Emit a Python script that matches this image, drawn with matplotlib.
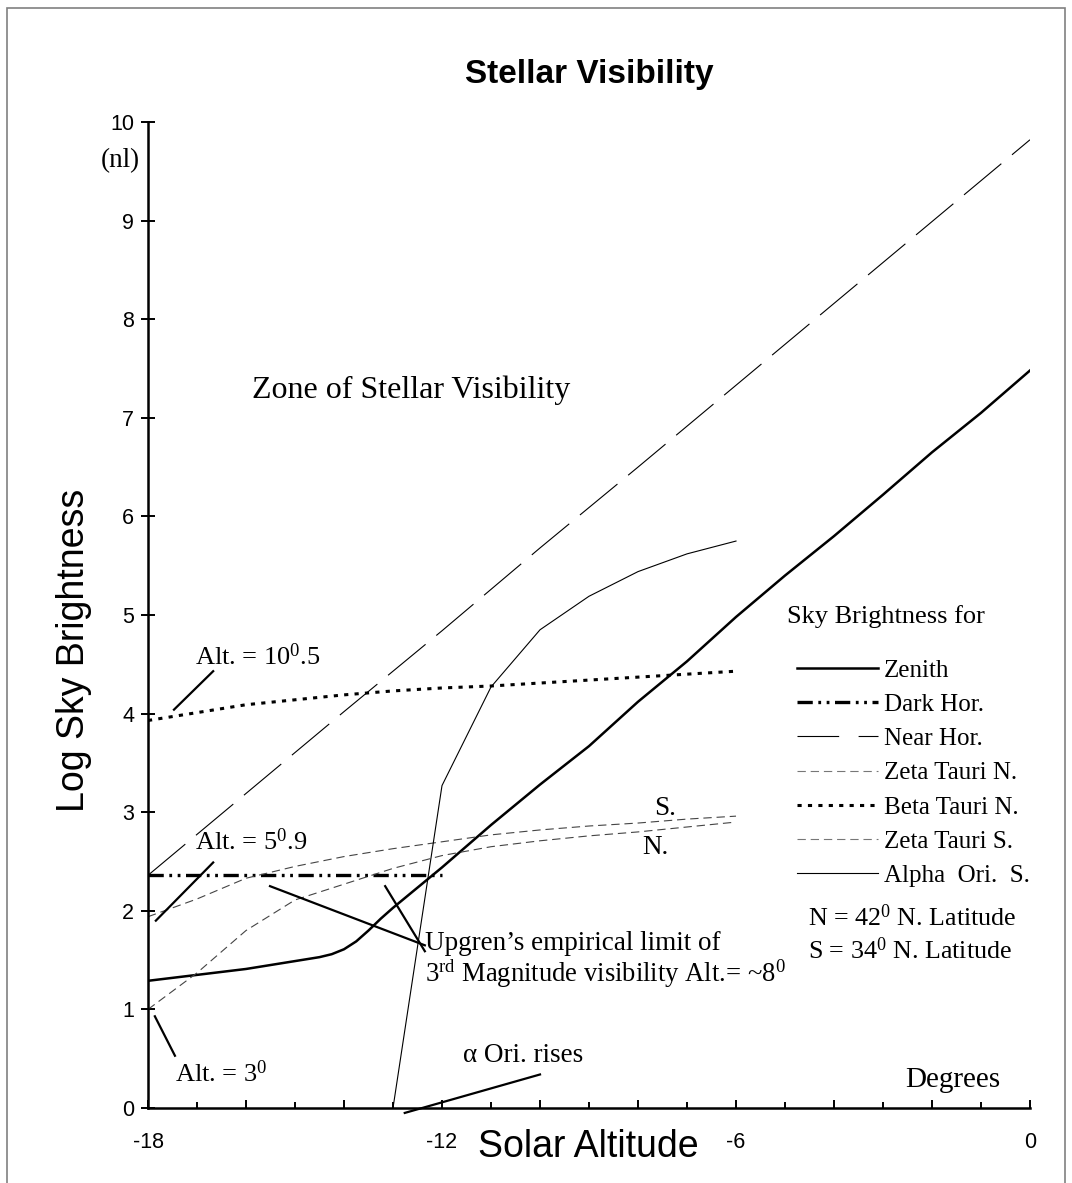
"""
Stellar visibility: log sky brightness against solar altitude during twilight.
Output: out.png
"""

import matplotlib
matplotlib.use("Agg")
import matplotlib.pyplot as plt
from matplotlib.lines import Line2D
from matplotlib.patches import Rectangle
from matplotlib.ticker import MultipleLocator, FuncFormatter

# ── data (solar altitude in degrees, log sky brightness in nl) ──
alt_zenith = [-18, -17, -16, -15, -14.5, -14.25, -14, -13.75, -13.5, -13.25, -13, -12, -11, -10, -9, -8, -7, -6, -5, -4, -3, -2, -1, 0]
zenith     = [1.29, 1.35, 1.41, 1.49, 1.53, 1.56, 1.61, 1.69, 1.80, 1.92, 2.03, 2.44, 2.87, 3.28, 3.67, 4.12, 4.53, 4.98, 5.40, 5.80, 6.22, 6.65, 7.05, 7.48]

alt_dark = [-18, -16, -14, -12]
dark_hor = [2.36, 2.36, 2.36, 2.36]

alt_near = [-18, -16, -14, -12, -10, -8, -6, -4, -2, 0]
near_hor = [2.36, 3.19, 4.02, 4.84, 5.68, 6.50, 7.33, 8.16, 8.99, 9.82]

alt_star    = [-18, -17, -16, -15, -14, -13, -12, -11, -10, -9, -8, -7, -6]
zeta_tau_n  = [1.00, 1.37, 1.80, 2.11, 2.27, 2.43, 2.56, 2.65, 2.71, 2.76, 2.80, 2.85, 2.90]
beta_tau_n  = [3.93, 4.01, 4.09, 4.14, 4.19, 4.23, 4.26, 4.28, 4.31, 4.34, 4.37, 4.40, 4.43]
zeta_tau_s  = [1.94, 2.12, 2.33, 2.45, 2.55, 2.63, 2.70, 2.77, 2.82, 2.86, 2.89, 2.93, 2.96]

alt_alpha   = [-13, -12, -11, -10, -9, -8, -7, -6]
alpha_ori_s = [0.00, 3.27, 4.27, 4.85, 5.19, 5.44, 5.62, 5.75]

# pointer segments for the annotations: (x0, x1), (y0, y1)
ptr_alt_105  = ([-17.47, -16.67], [4.04, 4.43])
ptr_alt_59   = ([-17.84, -16.67], [1.90, 2.49])
ptr_alt_3    = ([-17.86, -17.45], [0.93, 0.53])
ptr_upgren_a = ([-15.51, -12.35], [2.25, 1.65])
ptr_upgren_b = ([-13.16, -12.35], [2.25, 1.59])
ptr_alpha    = ([-12.76, -10.00], [-0.05, 0.34])

x_labels = {-18: "-18", -12: "-12", -6: "-6", 0: "0"}

plt.rcParams["lines.scale_dashes"] = False
plt.rcParams["mathtext.fontset"] = "custom"
plt.rcParams["mathtext.rm"] = "Liberation Serif"
plt.rcParams["mathtext.it"] = "Liberation Serif:italic"

SANS = "Liberation Sans"
SERIF = "Liberation Serif"
FS = 19

fig = plt.figure(figsize=(10.72, 11.83), dpi=100)
ax = fig.add_axes([148 / 1072, 75 / 1183, 882 / 1072, 986 / 1183])

# gray frame round the whole picture
fig.patches.append(Rectangle((7 / 1072, -0.01), 1058 / 1072, 1.01 - 8 / 1183,
                             transform=fig.transFigure, fill=False,
                             edgecolor="#808080", linewidth=1.2))

# ── series ──
l_zen, = ax.plot(alt_zenith, zenith, color="black", lw=1.8, label="Zenith")
l_dark, = ax.plot(alt_dark, dark_hor, color="black", lw=2.4,
                  linestyle=(0, (11, 4, 2, 4, 2, 4)), label="Dark Hor.")
l_near, = ax.plot(alt_near, near_hor, color="black", lw=0.8,
                  linestyle=(0, (35, 10)), label="Near Hor.")
l_zn, = ax.plot(alt_star, zeta_tau_n, color="#444444", lw=0.8,
                linestyle=(0, (6, 3.5)), label="Zeta Tauri N.")
l_beta, = ax.plot(alt_star, beta_tau_n, color="black", lw=2.2,
                  linestyle=(0, (3, 4.5)), label="Beta Tauri N.")
l_zs, = ax.plot(alt_star, zeta_tau_s, color="#444444", lw=0.8,
                linestyle=(0, (6, 3.5)), label="Zeta Tauri S.")
l_alpha, = ax.plot(alt_alpha, alpha_ori_s, color="black", lw=0.8, label="Alpha  Ori.  S.")

# annotation pointers
for xs, ys in [ptr_alt_105, ptr_alt_59, ptr_alt_3, ptr_upgren_a, ptr_upgren_b, ptr_alpha]:
    ax.plot(xs, ys, color="black", lw=1.6, clip_on=False)

# ── axes ──
ax.set_xlim(-18, 0)
ax.set_ylim(0, 10)
for s in ("top", "right"):
    ax.spines[s].set_visible(False)
for s in ("left", "bottom"):
    ax.spines[s].set_linewidth(1.8)

ax.xaxis.set_major_locator(MultipleLocator(2))
ax.xaxis.set_minor_locator(MultipleLocator(1))
ax.xaxis.set_major_formatter(FuncFormatter(lambda v, p: x_labels.get(int(round(v)), "")))
ax.yaxis.set_major_locator(MultipleLocator(1))
ax.tick_params(axis="x", which="major", direction="in", length=5.5, width=1.4,
               pad=17, labelsize=15.5)
ax.tick_params(axis="x", which="minor", direction="in", length=4, width=1.4)
ax.tick_params(axis="y", direction="inout", length=10, width=1.4, pad=5, labelsize=15.5)
for lab in ax.get_xticklabels() + ax.get_yticklabels():
    lab.set_fontfamily(SANS)

fig.text(589 / 1072, 1 - 75 / 1183, "Stellar Visibility", ha="center", va="center",
         fontsize=24, fontweight="bold", family=SANS)
fig.text(74 / 1072, 1 - 650 / 1183, "Log Sky Brightness", rotation=90,
         ha="center", va="center", fontsize=27, family=SANS)
fig.text(588 / 1072, 1 - 1157 / 1183, "Solar Altitude", ha="center", va="baseline",
         fontsize=27, family=SANS)

# ── text in the plot ──
def note(x, y, s, **kw):
    opts = dict(fontsize=FS, family=SERIF, clip_on=False)
    opts.update(kw)
    ax.text(x, y, s, **opts)

note(-18.57, 9.61, "(nl)", ha="center", va="center", fontsize=19.5)
note(-15.88, 7.28, "Zone of Stellar Visibility", va="center", fontsize=23)
note(-17.04, 4.49, r"Alt. = 10$^{0}$.5", va="baseline")
note(-17.04, 2.62, r"Alt. = 5$^{0}$.9", va="baseline")
note(-17.45, 0.26, r"Alt. = 3$^{0}$", va="baseline")
note(-12.35, 1.60, "Upgren\u2019s empirical limit of", va="baseline", fontsize=19.5)
note(-12.35, 1.28, r"3$^{\mathrm{rd}}$ Magnitude visibility Alt.= ~8$^{0}$", va="baseline", fontsize=19.2)
note(-11.57, 0.47, "\u03b1 Ori. rises", va="baseline", fontsize=19.5)
note(-7.45, 3.04, "S.", ha="center", va="center", fontsize=19.5)
note(-7.65, 2.64, "N.", ha="center", va="center", fontsize=19.5)
note(-2.55, 0.28, "Degrees", va="center", fontsize=21)
note(-4.53, 1.93, r"N = 42$^{0}$ N. Latitude", va="center", fontsize=18.7)
note(-4.53, 1.60, r"S = 34$^{0}$ N. Latitude", va="center", fontsize=18.7)
note(-4.96, 4.98, "Sky Brightness for", va="center", fontsize=19)

leg_near = Line2D([], [], color="black", lw=0.8, linestyle=(0, (30, 14)))
handles = [l_zen, l_dark, leg_near, l_zn, l_beta, l_zs, l_alpha]
labels = [l.get_label() for l in [l_zen, l_dark, l_near, l_zn, l_beta, l_zs, l_alpha]]
leg = ax.legend(handles, labels,
                loc="upper left", bbox_to_anchor=(797 / 1072, 1 - 659 / 1183),
                bbox_transform=fig.transFigure, frameon=False, borderpad=0,
                borderaxespad=0, handlelength=3.24, handletextpad=0.24,
                labelspacing=0.47, prop={"family": SERIF, "size": 18})
leg.legend_handles[3].set_color("#777777")
leg.legend_handles[5].set_color("#777777")

fig.savefig("out.png", dpi=100)
